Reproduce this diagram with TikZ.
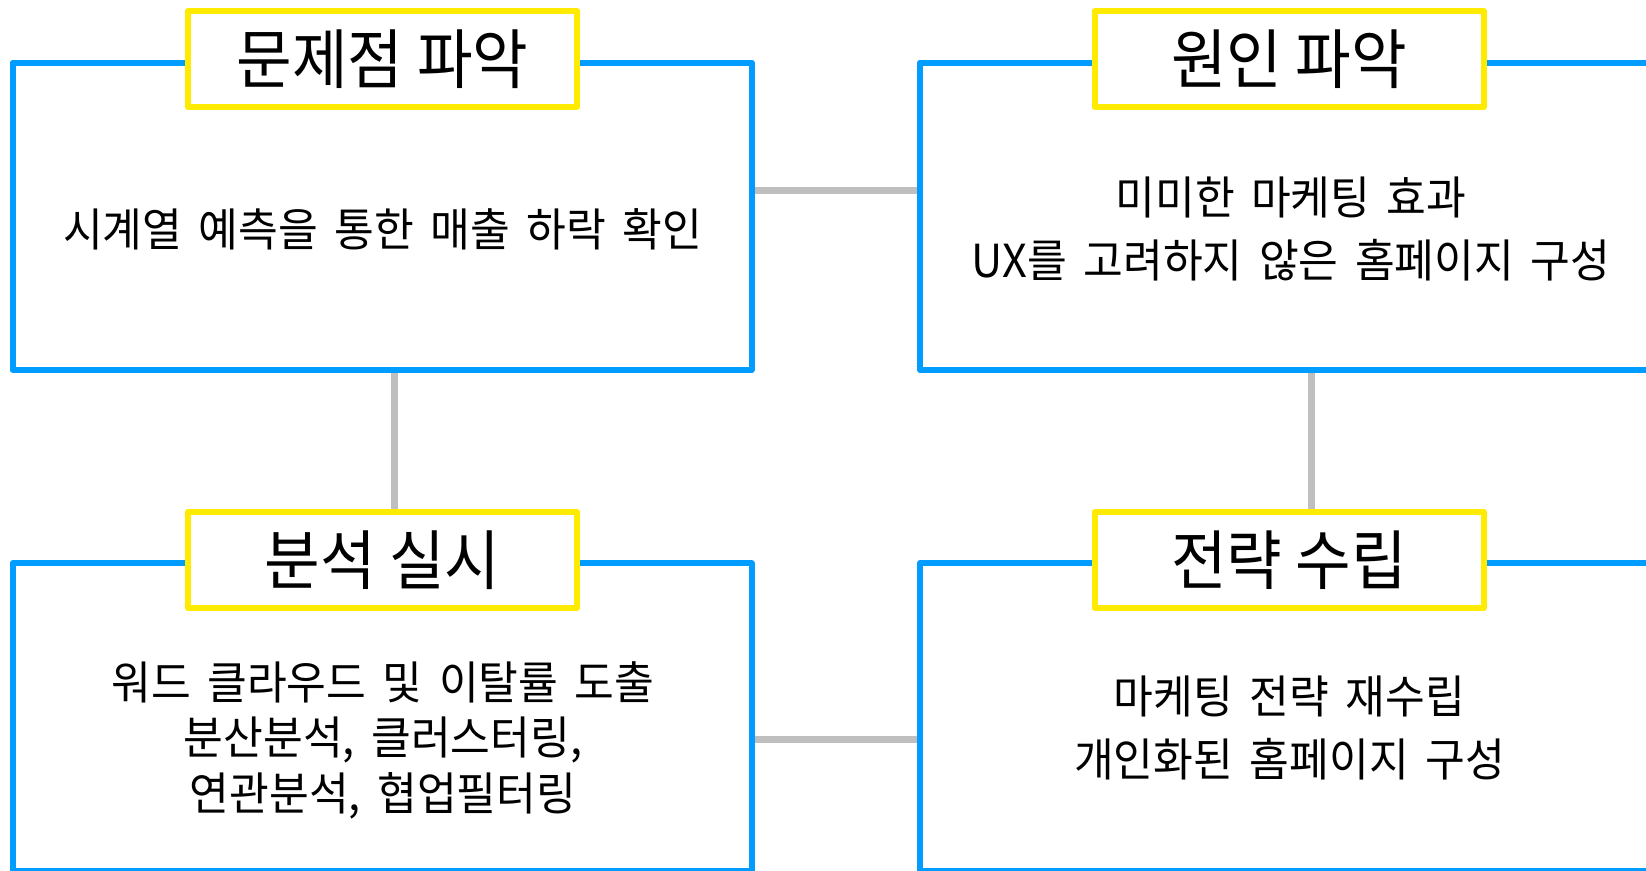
\documentclass[tikz,border=0pt]{standalone}
\usepackage{fontspec}
\newfontfamily\titlefont[FakeStretch=0.93]{Noto Sans CJK KR}
\newfontfamily\bodyfont[FakeStretch=0.95,WordSpace=1.7]{Noto Sans CJK KR}
\usetikzlibrary{backgrounds}
\pgfdeclarelayer{bottom}
\pgfsetlayers{bottom,background,main}
\definecolor{boxblue}{RGB}{0,156,255}
\definecolor{titleyellow}{RGB}{255,235,0}
\definecolor{conngray}{RGB}{191,191,191}
\tikzset{
  bluebox/.style={draw=boxblue, line width=6pt, line join=round, fill=white,
    minimum width=739pt, minimum height=307.5pt, inner sep=0pt, outer sep=0pt},
  titlebox/.style={draw=titleyellow, line width=6pt, line join=round, fill=white,
    minimum width=389pt, minimum height=96pt, inner sep=0pt, outer sep=0pt,
    font=\titlefont\fontsize{65}{70}\selectfont},
  bodytext/.style={align=center, inner sep=0pt,
    font=\bodyfont\fontsize{45.5}{63}\selectfont},
  conn/.style={draw=conngray, line width=6.5pt}
}
\begin{document}
\begin{tikzpicture}[x=1pt,y=-1pt]
\useasboundingbox (0,0) rectangle (1646,870);
\begin{pgfonlayer}{bottom}
\fill[white] (0,0) rectangle (1646,870);
\end{pgfonlayer}
\begin{scope}
\clip (0,0) rectangle (1646,870);
% boxes
\node[bluebox] (tl) at (382,216.25) {};
\node[bluebox] (tr) at (1289.5,216.25) {};
\node[bluebox] (bl) at (382,717) {};
\node[bluebox] (br) at (1289.5,717) {};
% titles
\node[titlebox] (t1) at (382.5,59) {\raisebox{-4.5pt}{문제점 파악}};
\node[titlebox] (t2) at (1289,59) {\raisebox{-4.5pt}{원인 파악}};
\node[titlebox] (t3) at (382.5,560) {\raisebox{-4.5pt}{분석 실시}};
\node[titlebox] (t4) at (1289,560) {\raisebox{-4.5pt}{전략 수립}};
% body texts
\node[bodytext] (x1) at (382.7,229) {시계열 예측을 통한 매출 하락 확인};
\node[bodytext] (x2) at (1291,228.5) {미미한 마케팅 효과\\UX를 고려하지 않은 홈페이지 구성};
\node[bodytext, font=\bodyfont\fontsize{45.5}{55.5}\selectfont] (x3) at (383,740) {워드 클라우드 및 이탈률 도출\\분산분석, 클러스터링,\\연관분석, 협업필터링};
\node[bodytext] (x4) at (1289.5,728) {마케팅 전략 재수립\\개인화된 홈페이지 구성};
% connectors
\begin{pgfonlayer}{background}
\draw[conn] ([yshift=25.75pt]tl.east) -- ([yshift=25.75pt]tr.west);
\draw[conn] ([yshift=-22.5pt]bl.east) -- ([yshift=-22.5pt]br.west);
\draw[conn] ([xshift=12.5pt]tl.south) -- ([xshift=12pt]t3.north);
\draw[conn] ([xshift=22pt]tr.south) -- ([xshift=22.5pt]t4.north);
\end{pgfonlayer}
\end{scope}
\end{tikzpicture}
\end{document}
